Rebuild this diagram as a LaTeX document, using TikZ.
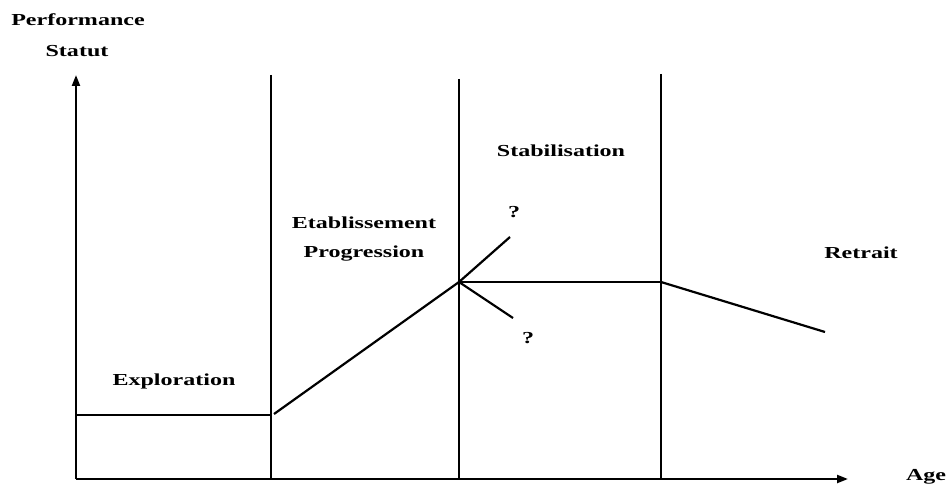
\documentclass[tikz,border=0pt]{standalone}
\usepackage{fontspec}
\setmainfont{Liberation Serif}
\usetikzlibrary{arrows.meta}
\begin{document}
\begin{tikzpicture}[x=1pt,y=-1pt,
  lbl/.style={font=\bfseries\fontsize{16.8}{18}\selectfont, xscale=1.43, transform shape, inner sep=0pt, anchor=base},
  axis/.style={line width=2.2pt, -{Triangle[length=11pt,width=8pt]}},
  phase/.style={line width=2.9pt},
  curve/.style={line width=2.2pt}]
\useasboundingbox (0,0) rectangle (947,484);

% axes
\coordinate (O) at (76,479);
\coordinate (ytip) at (76,75);
\coordinate (xtip) at (848,479);
\draw[axis] (O) -- (ytip);
\draw[axis] (O) -- (xtip);

% phase boundaries
\coordinate (b1t) at (271,75);  \coordinate (b1b) at (271,479);
\coordinate (b2t) at (459,79);  \coordinate (b2b) at (459,479);
\coordinate (b3t) at (661,74);  \coordinate (b3b) at (661,479);
\draw[phase] (b1t) -- (b1b);
\draw[phase] (b2t) -- (b2b);
\draw[phase] (b3t) -- (b3b);

% career curve
\coordinate (e0) at (76,415);
\coordinate (e1) at (271,415);
\coordinate (p0) at (274,414);
\coordinate (p1) at (459,282);
\coordinate (up) at (510,237);
\coordinate (dn) at (513,318);
\coordinate (s1) at (661,282);
\coordinate (r1) at (825,332);
\draw[curve] (e0) -- (e1);
\draw[curve] (p0) -- (p1);
\draw[curve] (p1) -- (up);
\draw[curve] (p1) -- (dn);
\draw[curve] (p1) -- (s1);
\draw[curve] (s1) -- (r1);

% labels
\node[lbl] (perf) at (78,26) {Performance};
\node[lbl] (stat) at (77,57) {Statut};
\node[lbl] (expl) at (174,385) {Exploration};
\node[lbl] (etab) at (364,228) {Etablissement};
\node[lbl] (prog) at (364,257) {Progression};
\node[lbl] (stab) at (561,156) {Stabilisation};
\node[lbl] (q1) at (514,217) {?};
\node[lbl] (q2) at (528,343) {?};
\node[lbl] (retr) at (861,258) {Retrait};
\node[lbl] (age) at (926,480) {Age};
\end{tikzpicture}
\end{document}
